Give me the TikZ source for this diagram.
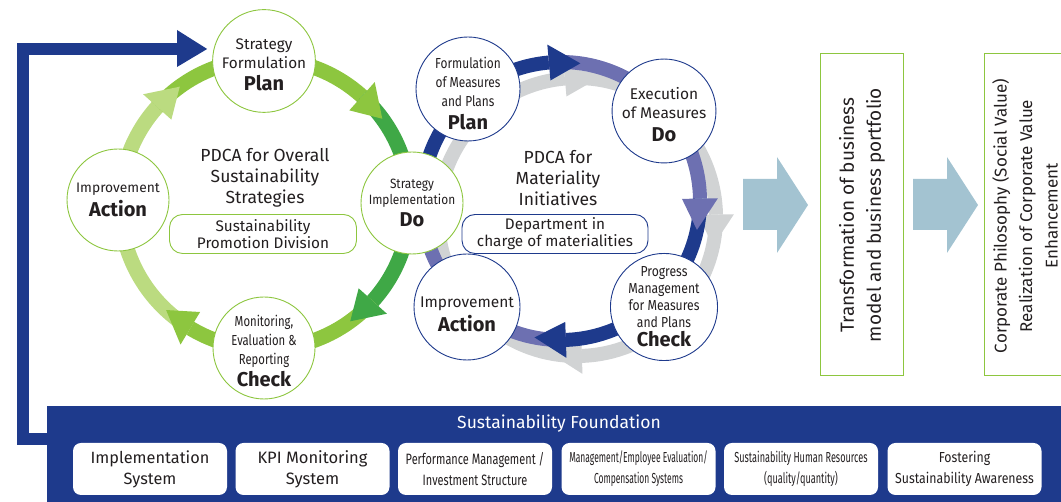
\documentclass[tikz,border=0pt]{standalone}
\usepackage{fontspec}
\usepackage{graphicx}
\setmainfont{Fira Sans}
\usetikzlibrary{calc}
\definecolor{dblue}{HTML}{1E3A8C}
\definecolor{pblue}{HTML}{6D70B1}
\definecolor{gry}{HTML}{D1D3D4}
\definecolor{lgreen}{HTML}{BBDB80}
\definecolor{mgreen}{HTML}{8DC63F}
\definecolor{dgreen}{HTML}{3FA846}
\definecolor{arrowblue}{HTML}{A3C3D1}
\definecolor{txt}{HTML}{231F20}
\newcommand\ringband[6]{\draw[line width=#6,#5] ($(#1)+(#3:#2)$) arc[start angle=#3,end angle=#4,radius=#2];}
\newcommand\ringhead[6]{\fill[#5] ($(#1)+(#3:#2)$) -- ($(#1)+({#4}:{#2+#6})$) -- ($(#1)+({#4}:{#2-#6})$) -- cycle;}
\newcommand\bw[1]{{\fontsize{20}{22}\selectfont\bfseries #1}}
\newcommand\cx[2]{\scalebox{#1}[1]{#2}}
\newcommand\up[1]{\rule{0pt}{#1pt}}
\newcommand\bluering[3]{%
  \ringband{#1}{139}{185}{95}{#2}{14}
  \ringband{#1}{139}{95}{1}{#3}{14}
  \ringband{#1}{139}{1}{-88}{#2}{14}
  \ringband{#1}{139}{-88}{-175}{#3}{14}
  \ringhead{#1}{139}{82}{95}{#2}{18}
  \ringhead{#1}{139}{-12}{1}{#3}{18}
  \ringhead{#1}{139}{-101}{-88}{#2}{18}
  \ringhead{#1}{139}{-188}{-175}{#3}{18}}
\begin{document}
\begin{tikzpicture}[x=1pt,y=1pt,
  gnode/.style={circle,draw=mgreen,line width=0.9pt,fill=white,minimum size=102pt,inner sep=0pt,align=center,text=txt,font=\fontsize{14.5}{18}\selectfont},
  bnode/.style={gnode,draw=dblue},
  lbox/.style={rounded corners=13pt,line width=0.9pt,fill=white,minimum width=187pt,minimum height=39pt,align=center,text=txt,font=\fontsize{15.3}{17}\selectfont},
  ftitle/.style={align=center,text=txt,font=\fontsize{17.5}{21}\selectfont},
  fbox/.style={rounded corners=8pt,fill=white,minimum width=154pt,minimum height=52pt,inner sep=0pt,align=center,text=txt,font=\fontsize{16.3}{21}\selectfont},
  vbox/.style={draw=mgreen,line width=0.9pt},
  bigarrow/.style={fill=arrowblue}]
\useasboundingbox (0,0) rectangle (1061,502);
\coordinate (LC) at (265,298);
\coordinate (BC) at (561,301);
\coordinate (GC) at (577,285);
% blue/grey ring
\bluering{GC}{gry}{gry}
\bluering{BC}{dblue}{pblue}
% green ring
\ringband{LC}{145}{239}{138}{lgreen}{15}
\ringband{LC}{145}{138}{48}{mgreen}{15}
\ringband{LC}{145}{48}{-42}{dgreen}{15}
\ringband{LC}{145}{-42}{-121}{mgreen}{15}
\ringhead{LC}{145}{126}{138}{lgreen}{19}
\ringhead{LC}{145}{36}{48}{mgreen}{19}
\ringhead{LC}{145}{-54}{-42}{dgreen}{19}
\ringhead{LC}{145}{-133}{-121}{mgreen}{19}
% left nodes
\node[gnode,font=\fontsize{15.3}{19}\selectfont] (lplan) at (264,441) {\up{18}Strategy\\Formulation\\[3pt]\bw{Plan}};
\node[gnode,font=\fontsize{13.8}{18}\selectfont] (laction) at (118,302) {Improvement\\[4pt]\bw{Action}};
\node[gnode,font=\fontsize{13.5}{16}\selectfont] (ldo) at (412,299) {\cx{0.88}{Strategy}\\\cx{0.88}{Implementation}\\[4pt]\bw{Do}};
\node[gnode,font=\fontsize{14.5}{19}\selectfont] (lcheck) at (264,154) {\up{17.5}\cx{0.78}{Monitoring,}\\\cx{0.78}{Evaluation \&}\\\cx{0.78}{Reporting}\\[3pt]\bw{Check}};
\node[ftitle] (ltitle) at (265,324) {PDCA for Overall\\Sustainability\\Strategies};
\node[lbox,draw=mgreen] (lunit) at (263,268) {Sustainability\\Promotion Division};
% right nodes
\node[bnode,font=\fontsize{14.5}{19}\selectfont] (rplan) at (468,413) {\up{19.5}\cx{0.82}{Formulation}\\\cx{0.82}{of Measures}\\\cx{0.82}{and Plans}\\[4pt]\bw{Plan}};
\node[bnode,font=\fontsize{15.5}{19}\selectfont] (rdo) at (664,391) {\up{18.5}Execution\\of Measures\\[4pt]\bw{Do}};
\node[bnode,font=\fontsize{14.5}{17}\selectfont] (rcheck) at (664,195) {\cx{0.84}{Progress}\\\cx{0.84}{Management}\\\cx{0.84}{for Measures}\\\cx{0.84}{and Plans}\\[2pt]\bw{Check}};
\node[bnode,font=\fontsize{15.5}{20}\selectfont] (raction) at (467,195) {\up{25.5}Improvement\\[4pt]\bw{Action}};
\node[ftitle] (rtitle) at (558,324) {PDCA for\\Materiality\\Initiatives};
\node[lbox,draw=dblue,minimum width=186pt] (runit) at (555,268) {Department in\\charge of materialities};
% foundation panel
\node[fill=dblue,minimum width=1014pt,minimum height=96pt,anchor=south west,inner sep=0pt] (panel) at (47,0) {};
\node[text=white,font=\fontsize{17.5}{20}\selectfont] (sf) at (559,78) {Sustainability Foundation};
\node[fbox] (f1) at (150,33) {Implementation\\System};
\node[fbox,font=\fontsize{16.5}{21}\selectfont] (f2) at (312.5,33) {KPI Monitoring\\System};
\node[fbox,font=\fontsize{15}{21}\selectfont] (f3) at (475,33) {\cx{0.73}{Performance Management /}\\\cx{0.73}{Investment Structure}};
\node[fbox,font=\fontsize{14.5}{21}\selectfont] (f4) at (638.5,33) {\cx{0.585}{Management/Employee Evaluation/}\\\cx{0.585}{Compensation Systems}};
\node[fbox,font=\fontsize{14.5}{21}\selectfont] (f5) at (801,33) {\cx{0.63}{Sustainability Human Resources}\\\cx{0.63}{(quality/quantity)}};
\node[fbox,font=\fontsize{14.5}{21}\selectfont] (f6) at (964.5,33) {\cx{0.85}{Fostering}\\\cx{0.85}{Sustainability Awareness}};
% feedback arrow
\coordinate (ua) at (60,63);
\coordinate (ub) at (23,63);
\coordinate (uc) at (23,453);
\coordinate (ud) at (180,453);
\draw[dblue,line width=12pt,line join=miter] (ua) -- (ub) -- (uc) -- (ud);
\fill[dblue] (177,472) -- ($(lplan.west)+(-5,12)$) -- (177,435) -- cycle;
% right side
\fill[bigarrow] (743,272) -- (777,272) -- (777,249) -- (808,297) -- (777,345) -- (777,323) -- (743,323) -- cycle;
\fill[bigarrow] (913,272) -- (947,272) -- (947,249) -- (978,297) -- (947,345) -- (947,323) -- (913,323) -- cycle;
\draw[vbox] (820,127) rectangle (903,449);
\node[rotate=90,align=center,text=txt,font=\fontsize{19}{27}\selectfont] (t1) at (862,287) {Transformation of business\\model and business portfolio};
\draw[vbox] (984,127) rectangle (1075,449);
\node[rotate=90,align=center,text=txt,font=\fontsize{17}{25.5}\selectfont] (t2) at (1025,286) {Corporate Philosophy (Social Value)\\Realization of Corporate Value\\Enhancement};
\end{tikzpicture}
\end{document}
